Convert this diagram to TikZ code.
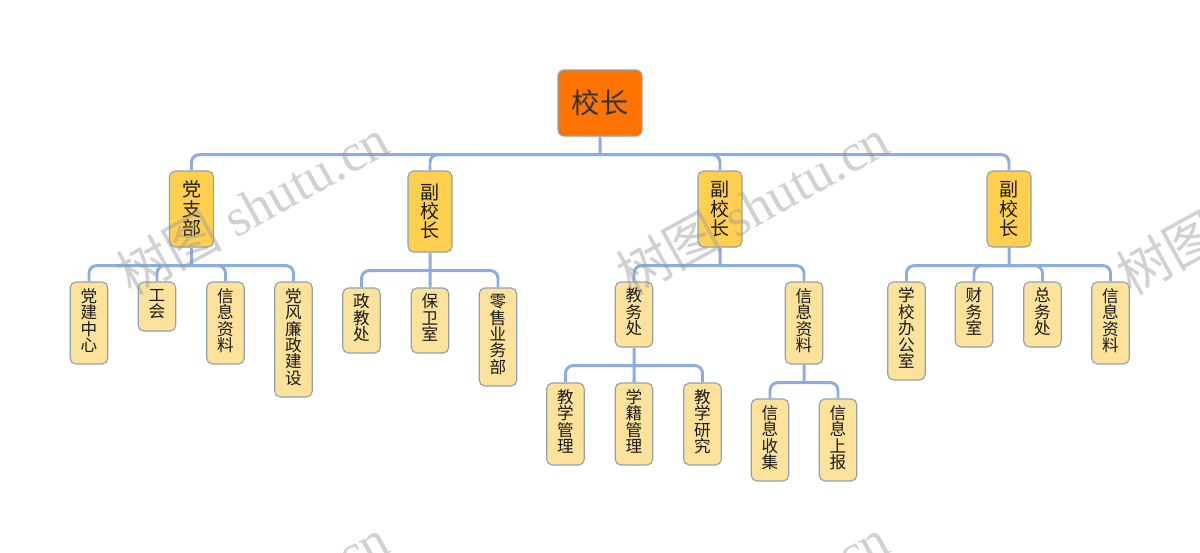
\documentclass[tikz,border=0pt]{standalone}
\usepackage{fontspec}
\newfontfamily\cjk{Noto Sans CJK SC}
\setmainfont{Liberation Serif}
\definecolor{rootfill}{HTML}{FF7300}
\definecolor{midfill}{HTML}{FFD04F}
\definecolor{leaffill}{HTML}{FDE29C}
\definecolor{boxline}{HTML}{8FA3AE}
\definecolor{linkline}{HTML}{8BADE0}
\definecolor{markgray}{HTML}{9A9A9A}
\tikzset{
    rootbox/.style={draw=boxline,line width=0.9pt,fill=rootfill,rounded corners=4.5pt,text=black!80,
        minimum width=84*0.025cm,minimum height=66*0.025cm,inner sep=0pt,
        font=\cjk\fontsize{20}{20}\selectfont},
    midbox/.style={draw=boxline,line width=0.8pt,fill=midfill,rounded corners=4pt,text=black!90,
        minimum width=44*0.025cm,inner sep=0pt,align=center,
        font=\cjk\fontsize{13.5}{13.7}\selectfont},
    leafbox/.style={draw=boxline,line width=0.8pt,fill=leaffill,rounded corners=4pt,text=black!90,
        minimum width=37.5*0.025cm,inner sep=0pt,align=center,text depth=4.5pt,
        font=\cjk\fontsize{11.8}{11.7}\selectfont},
    boxh/.style={minimum height=#1*0.025cm},
    link/.style={draw=linkline,line width=2.1pt,rounded corners=5.5pt},
    trunk/.style={draw=linkline,line width=2.1pt},
    stamp/.style={rotate=29,anchor=south west,inner sep=0pt,text=markgray,opacity=0.45,
        font=\fontsize{38}{38}\selectfont}
}
\begin{document}
\begin{tikzpicture}[x=0.025cm,y=-0.025cm]
    \path[use as bounding box,clip] (0,0) rectangle (1200,552);
    \fill[white] (0,0) rectangle (1200,552);
    % top
    \node[rootbox] (root) at (600,103) {校长};
    \node[midbox,boxh=76] (dzb) at (191.5,209) {党\\支\\部};
    \node[midbox,boxh=81] (fxa) at (430,211.5) {副\\校\\长};
    \node[midbox,boxh=76] (fxb) at (720,209) {副\\校\\长};
    \node[midbox,boxh=76] (fxc) at (1009,209) {副\\校\\长};
    % party branch
    \node[leafbox,boxh=82] (djzx) at (89,323) {党\\建\\中\\心};
    \node[leafbox,boxh=49] (gh) at (157,306.5) {工\\会};
    \node[leafbox,boxh=82] (xxa) at (225.5,323) {信\\息\\资\\料};
    \node[leafbox,boxh=115] (dflz) at (293.5,339.5) {党\\风\\廉\\政\\建\\设};
    % second branch
    \node[leafbox,boxh=65] (zjc) at (361.5,320.5) {政\\教\\处};
    \node[leafbox,boxh=65] (bws) at (430,320.5) {保\\卫\\室};
    \node[leafbox,boxh=98] (lsyw) at (498,337) {零\\售\\业\\务\\部};
    % third branch
    \node[leafbox,boxh=65] (jwc) at (634,314.5) {教\\务\\处};
    \node[leafbox,boxh=82] (xxb) at (804,323) {信\\息\\资\\料};
    \node[leafbox,boxh=82] (jxgl) at (565.5,424) {教\\学\\管\\理};
    \node[leafbox,boxh=82] (xjgl) at (634,424) {学\\籍\\管\\理};
    \node[leafbox,boxh=82] (jxyj) at (702.5,424) {教\\学\\研\\究};
    \node[leafbox,boxh=82] (xxsj) at (770,440) {信\\息\\收\\集};
    \node[leafbox,boxh=82] (xxsb) at (838,440) {信\\息\\上\\报};
    % fourth branch
    \node[leafbox,boxh=98] (xxbg) at (906.5,331) {学\\校\\办\\公\\室};
    \node[leafbox,boxh=65] (cws) at (974,314.5) {财\\务\\室};
    \node[leafbox,boxh=65] (zwc) at (1042.5,314.5) {总\\务\\处};
    \node[leafbox,boxh=82] (xxc) at (1110.5,323) {信\\息\\资\\料};
    % bus points under each parent
    \foreach \up/\bus in {root/busa,dzb/busb,fxa/busc,fxb/busd,fxc/buse,jwc/busf,xxb/busg}
        \path (\up.south) ++(0,18) coordinate (\bus);
    % links
    \foreach \up/\bus in {root/busa,dzb/busb,fxa/busc,fxb/busd,fxc/buse,jwc/busf,xxb/busg}
        \draw[trunk] (\up.south) -- ([xshift=0.1pt]\bus);
    \foreach \kid in {dzb,fxa,fxb,fxc}
        \draw[link] (busa) -| (\kid.north);
    \foreach \kid in {djzx,gh,xxa,dflz}
        \draw[link] (busb) -| (\kid.north);
    \foreach \kid in {zjc,lsyw}
        \draw[link] (busc) -| (\kid.north);
    \draw[trunk] (busc) -- ([xshift=0.1pt]bws.north);
    \foreach \kid in {jwc,xxb}
        \draw[link] (busd) -| (\kid.north);
    \foreach \kid in {jxgl,jxyj}
        \draw[link] (busf) -| (\kid.north);
    \draw[trunk] (busf) -- ([xshift=0.1pt]xjgl.north);
    \foreach \kid in {xxsj,xxsb}
        \draw[link] (busg) -| (\kid.north);
    \foreach \kid in {xxbg,cws,zwc,xxc}
        \draw[link] (buse) -| (\kid.north);
    % watermark
    \node[stamp] (marka) at (133,301) {{\cjk 树图} shutu.cn};
    \node[stamp] (markb) at (633,301) {{\cjk 树图} shutu.cn};
    \node[stamp] (markc) at (1133,301) {{\cjk 树图} shutu.cn};
    \node[stamp] (markd) at (133,701) {{\cjk 树图} shutu.cn};
    \node[stamp] (marke) at (633,701) {{\cjk 树图} shutu.cn};
\end{tikzpicture}
\end{document}
